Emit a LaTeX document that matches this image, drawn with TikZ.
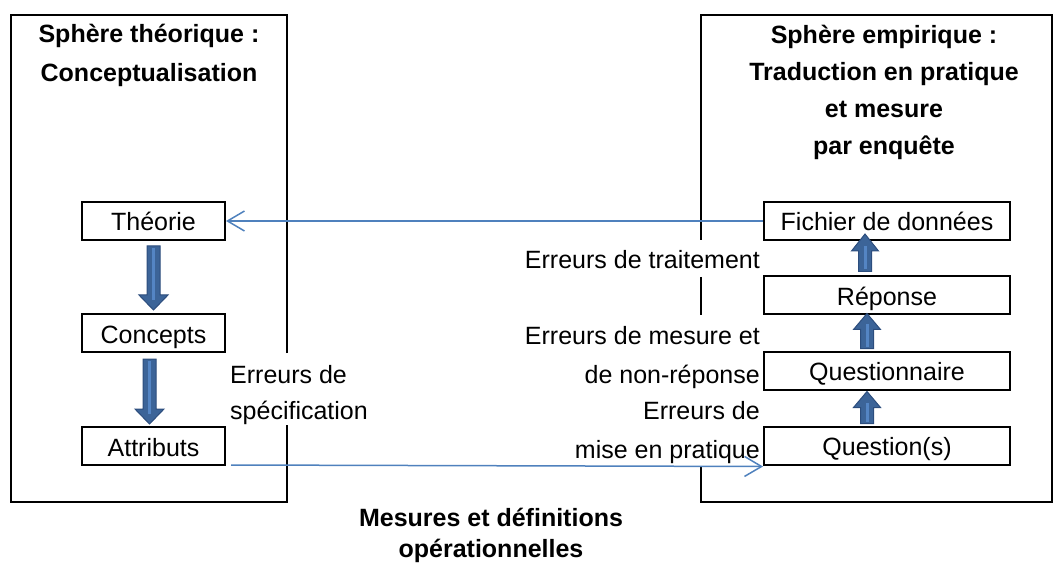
\documentclass[tikz,border=0pt]{standalone}
\usepackage{fontspec}
\setmainfont{Liberation Sans}
\usetikzlibrary{arrows.meta,calc}
\definecolor{blockfill}{RGB}{60,100,152}
\definecolor{blockedge}{RGB}{44,77,125}
\definecolor{stripecol}{RGB}{84,133,196}
\definecolor{linkblue}{RGB}{79,129,189}
\tikzset{
 sphere/.style={line width=2pt},
 stepbox/.style={draw, line width=2pt, inner sep=0pt, minimum height=38pt, text height=20pt, text depth=0pt, font=\fontsize{25}{30}\selectfont},
 lbox/.style={stepbox, minimum width=143pt},
 rbox/.style={stepbox, minimum width=246pt},
 heading/.style={align=center, inner sep=0pt, font=\fontsize{25}{#1}\selectfont\bfseries},
 errlabel/.style={inner sep=0pt, font=\fontsize{25}{#1}\selectfont},
 thinarrow/.style={draw=linkblue, line width=1.5pt, -{Straight Barb[length=17pt,width=20pt]}},
 blockarrow/.style={fill=blockfill, draw=blockedge, line width=1pt},
 stripe/.style={draw=stripecol, line width=3pt},
}
% #1 from, #2 to, #3 half head width, #4 head length
\newcommand\blockarr[4]{%
 \filldraw[blockarrow] let \p1=(#1), \p2=(#2), \n1={ifthenelse(\y2>\y1,1,-1)} in
  (\x1-6.5pt,\y1) -- (\x1-6.5pt,{\y2-(\n1)*(#4)}) -- (\x1-#3,{\y2-(\n1)*(#4)}) -- (\x1,\y2)
  -- (\x1+#3,{\y2-(\n1)*(#4)}) -- (\x1+6.5pt,{\y2-(\n1)*(#4)}) -- (\x1+6.5pt,\y1) -- cycle;
 \draw[stripe] let \p1=(#1), \p2=(#2), \n1={ifthenelse(\y2>\y1,1,-1)} in
  (\x1,{\y1+(\n1)*2pt}) -- (\x1,{\y2-(\n1)*(#4-5pt)});
}
\begin{document}
\begin{tikzpicture}[x=1pt,y=-1pt]
\useasboundingbox (0,0) rectangle (1053,564);
% spheres
\draw[sphere] (287,353) -- (287,15) -- (11,15) -- (11,502) -- (287,502) -- (287,425);
\draw[sphere] (701,240) -- (701,15) -- (1052,15) -- (1052,502) -- (701,502) -- (701,466);
\draw[sphere] (701,277) -- (701,315);
% headings
\node[heading=39, anchor=base] (lhead) at (149,82) {Sphère théorique :\\Conceptualisation};
\node[heading=37.3, anchor=base] (rhead) at (884,155) {Sphère empirique :\\Traduction en pratique\\et mesure\\par enquête};
\node[heading=31, anchor=base] (bhead) at (491,557) {Mesures et définitions\\opérationnelles};
% boxes
\node[lbox] (theo) at (153.5,221) {Théorie};
\node[lbox] (conc) at (153.5,333) {Concepts};
\node[lbox] (attr) at (153.5,446) {Attributs};
\node[rbox] (fich) at (887,221) {Fichier de données};
\node[rbox] (rep) at (887,295.5) {Réponse};
\node[rbox] (qnaire) at (887,370.5) {Questionnaire};
\node[rbox] (qs) at (887,445.5) {Question(s)};
% labels
\node[errlabel=38, anchor=base east] (etrait) at (760,269) {Erreurs de traitement};
\node[errlabel=39, anchor=base east, align=right] (emes) at (760,383) {Erreurs de mesure et\\de non-réponse};
\node[errlabel=39, anchor=base east, align=right] (eprat) at (760,458) {Erreurs de\\mise en pratique};
\node[errlabel=36, anchor=base west, align=left] (espec) at (230,419) {Erreurs de\\spécification};
% block arrows
\blockarr{$(theo.south)+(0,5)$}{$(conc.north)+(0,-3)$}{14.5pt}{15pt}
\blockarr{$(conc.south)+(-4,6)$}{$(attr.north)+(-4,-2)$}{14.5pt}{15pt}
\blockarr{$(rep.north)+(-22,-4)$}{$(fich.south)+(-22,-7)$}{13.5pt}{17pt}
\blockarr{$(qnaire.north)+(-20,-2)$}{$(rep.south)+(-20,-2)$}{13.5pt}{16pt}
\blockarr{$(qs.north)+(-20,-2)$}{$(qnaire.south)+(-20,1)$}{13.5pt}{16pt}
% thin arrows
\draw[thinarrow] (fich.west) -- (theo.east);
\draw[thinarrow] ($(attr.south east)+(5,-1)$) -- ($(qs.south west)+(0,1)$);
\end{tikzpicture}
\end{document}
